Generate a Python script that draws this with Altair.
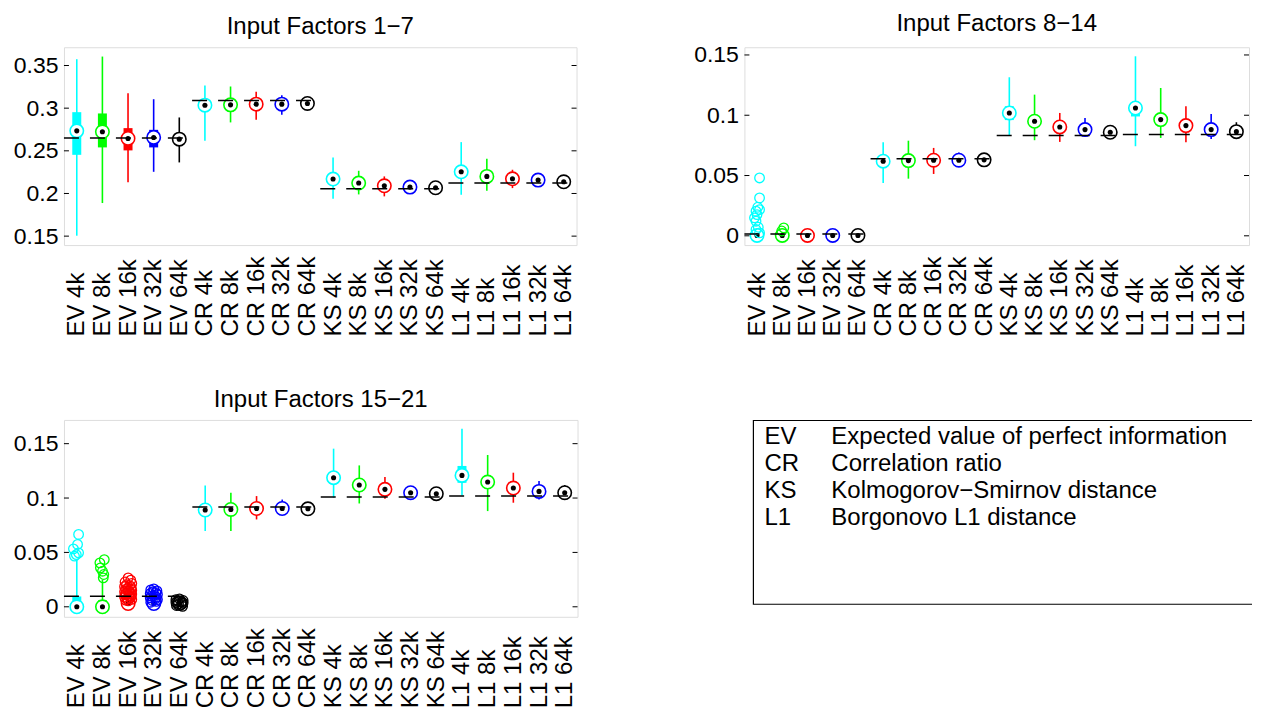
import altair as alt
import pandas as pd

methods = ["EV", "CR", "KS", "L1"]
descs = ["Expected value of perfect information", "Correlation ratio",
         "Kolmogorov\u2212Smirnov distance", "Borgonovo L1 distance"]
sizes = ["4k", "8k", "16k", "32k", "64k"]
categories = [f"{m} {s}" for m in methods for s in sizes]
size_colors = ["#00FFFF", "#00FF00", "#FF0000", "#0000FF", "#000000"]
titles = ["Input Factors 1\u22127", "Input Factors 8\u221214", "Input Factors 15\u221221"]

# ---------------- Panel 1: Input Factors 1-7 ----------------
p1_med = [0.2734, 0.2723, 0.2645, 0.2657, 0.2637, 0.3035, 0.3039, 0.3047, 0.3047, 0.3055,
          0.2169, 0.2122, 0.2090, 0.2075, 0.2067, 0.2254, 0.2200, 0.2172, 0.2157, 0.2137]
p1_q1 = [0.2453, 0.2540, 0.2505, 0.2540, 0.2595, 0.2990, 0.3000, 0.3015, 0.3025, 0.3040,
         0.2120, 0.2085, 0.2065, 0.2055, 0.2050, 0.2190, 0.2160, 0.2150, 0.2140, 0.2125]
p1_q3 = [0.2953, 0.2938, 0.2766, 0.2746, 0.2680, 0.3080, 0.3075, 0.3075, 0.3070, 0.3070,
         0.2220, 0.2160, 0.2120, 0.2095, 0.2085, 0.2320, 0.2240, 0.2195, 0.2175, 0.2150]
p1_wlo = [0.1505, 0.1888, 0.2133, 0.2254, 0.2364, 0.2617, 0.2833, 0.2863, 0.2922, 0.3000,
          0.1938, 0.1989, 0.1966, 0.2020, 0.2025, 0.1985, 0.2032, 0.2063, 0.2090, 0.2080]
p1_whi = [0.3574, 0.3605, 0.3176, 0.3105, 0.2891, 0.3266, 0.3254, 0.3191, 0.3152, 0.3105,
          0.2423, 0.2266, 0.2200, 0.2130, 0.2110, 0.2602, 0.2406, 0.2278, 0.2220, 0.2200]
p1_out_cat = []
p1_out_val = []
p1_out_jit = []
p1_true = [0.2649, 0.3090, 0.2055, 0.2122]
p1_ticks = [0.15, 0.2, 0.25, 0.3, 0.35]
p1_domain = [0.1395, 0.3714]

# ---------------- Panel 2: Input Factors 8-14 ----------------
p2_med = [0.0003, 0.0003, 0.0003, 0.0003, 0.0003, 0.0619, 0.0624, 0.0627, 0.0627, 0.0630,
          0.1019, 0.0950, 0.0903, 0.0881, 0.0859, 0.1060, 0.0964, 0.0914, 0.0881, 0.0864]
p2_q1 = [0.0000, 0.0000, 0.0000, 0.0000, 0.0001, 0.0590, 0.0595, 0.0605, 0.0612, 0.0620,
         0.0960, 0.0905, 0.0870, 0.0860, 0.0845, 0.0990, 0.0920, 0.0885, 0.0865, 0.0850]
p2_q3 = [0.0010, 0.0008, 0.0006, 0.0005, 0.0005, 0.0650, 0.0655, 0.0650, 0.0645, 0.0640,
         0.1075, 0.0995, 0.0935, 0.0905, 0.0875, 0.1110, 0.1010, 0.0945, 0.0900, 0.0880]
p2_wlo = [0.0000, 0.0000, 0.0000, 0.0000, 0.0000, 0.0439, 0.0474, 0.0513, 0.0580, 0.0590,
          0.0831, 0.0793, 0.0779, 0.0826, 0.0820, 0.0743, 0.0812, 0.0776, 0.0804, 0.0820]
p2_whi = [0.0020, 0.0015, 0.0012, 0.0010, 0.0008, 0.0776, 0.0789, 0.0729, 0.0690, 0.0670,
          0.1315, 0.1171, 0.1019, 0.0978, 0.0900, 0.1489, 0.1226, 0.1075, 0.1011, 0.0942]
p2_out_cat = [1] * 11 + [2] * 2
p2_out_val = [0.0480, 0.0314, 0.0237, 0.0217, 0.0204, 0.0176, 0.0149, 0.0121, 0.0071, 0.0052, 0.0024,
              0.0066, 0.0040]
p2_out_jit = [0.10, 0.10, 0.03, 0.10, -0.04, 0.00, -0.10, -0.04, 0.05, -0.04, 0.10,
              0.06, -0.02]
p2_true = [0.0016, 0.0640, 0.0831, 0.0840]
p2_ticks = [0, 0.05, 0.1, 0.15]
p2_domain = [-0.0077, 0.1564]

# ---------------- Panel 3: Input Factors 15-21 ----------------
p3_med = [0.0000, 0.0000, 0.0030, 0.0030, 0.0030, 0.0890, 0.0895, 0.0904, 0.0904, 0.0901,
          0.1187, 0.1120, 0.1080, 0.1049, 0.1040, 0.1208, 0.1147, 0.1092, 0.1061, 0.1049]
p3_q1 = [0.0000, 0.0000, 0.0000, 0.0000, 0.0000, 0.0860, 0.0860, 0.0880, 0.0885, 0.0890,
         0.1130, 0.1075, 0.1050, 0.1030, 0.1025, 0.1140, 0.1100, 0.1060, 0.1040, 0.1035]
p3_q3 = [0.0095, 0.0060, 0.0040, 0.0040, 0.0035, 0.0935, 0.0940, 0.0930, 0.0925, 0.0915,
         0.1240, 0.1170, 0.1110, 0.1070, 0.1060, 0.1295, 0.1200, 0.1130, 0.1085, 0.1065]
p3_wlo = [0.0000, 0.0000, 0.0000, 0.0000, 0.0000, 0.0696, 0.0696, 0.0803, 0.0850, 0.0860,
          0.1003, 0.0950, 0.0994, 0.1000, 0.1000, 0.1024, 0.0880, 0.0957, 0.0987, 0.1000]
p3_whi = [0.0434, 0.0250, 0.0045, 0.0045, 0.0040, 0.1116, 0.1049, 0.1018, 0.0986, 0.0950,
          0.1454, 0.1300, 0.1193, 0.1110, 0.1080, 0.1638, 0.1396, 0.1233, 0.1157, 0.1120]
p3_out_cat = [1] * 6 + [2] * 6 + [3] * 25 + [4] * 16 + [5] * 11
p3_out_val = [0.0665, 0.0573, 0.0533, 0.0496, 0.0480, 0.0466,
              0.0434, 0.0404, 0.0358, 0.0327, 0.0297, 0.0266,
              0.0266, 0.0245, 0.0228, 0.0215, 0.0204, 0.0194, 0.0185, 0.0176, 0.0168, 0.0160,
              0.0152, 0.0145, 0.0138, 0.0131, 0.0124, 0.0117, 0.0110, 0.0103, 0.0096, 0.0089,
              0.0082, 0.0075, 0.0068, 0.0061, 0.0054,
              0.0165, 0.0155, 0.0146, 0.0138, 0.0130, 0.0122, 0.0114, 0.0106, 0.0098, 0.0090,
              0.0082, 0.0074, 0.0066, 0.0058, 0.0050, 0.0042,
              0.0072, 0.0065, 0.0058, 0.0052, 0.0046, 0.0040, 0.0034, 0.0028, 0.0022, 0.0012,
              0.0004]
p3_out_jit = [0.07, 0.03, -0.13, 0.07, -0.02, -0.09,
              0.07, -0.10, -0.08, 0.00, 0.05, 0.03,
              0.00, 0.10, -0.12, 0.14, -0.06, 0.06, -0.14, 0.12, -0.02, -0.10,
              0.14, 0.02, -0.14, 0.08, -0.08, 0.14, -0.12, 0.04, 0.12, -0.14,
              0.08, -0.04, 0.14, -0.10, 0.00,
              0.00, -0.12, 0.12, -0.04, 0.08, -0.14, 0.14, 0.02, -0.10, 0.10,
              -0.14, 0.06, 0.14, -0.06, 0.10, -0.12,
              0.00, -0.14, 0.14, -0.08, 0.10, -0.14, 0.14, -0.04, 0.08, -0.12,
              0.12]
p3_true = [0.0097, 0.0917, 0.1009, 0.1018]
p3_ticks = [0, 0.05, 0.1, 0.15]
p3_domain = [-0.0092, 0.1718]

FONT = "Liberation Sans"
label_expr = "[" + ", ".join(f"'{c}'" for c in categories) + "][datum.value - 1]"


def panel(title, med, q1, q3, wlo, whi, out_cat, out_val, out_jit, true_vals,
          domain, ticks, width, height):
    df = pd.DataFrame({
        "idx": list(range(1, 21)),
        "label": categories,
        "size": [sizes[i % 5] for i in range(20)],
        "med": med, "q1": q1, "q3": q3, "wlo": wlo, "whi": whi,
    })
    tdf = pd.DataFrame({
        "g0": [5 * k + 0.5 for k in range(4)],
        "g1": [5 * k + 5.5 for k in range(4)],
        "tv": true_vals,
    })
    kdf = pd.DataFrame({"t": ticks})

    xs = alt.Scale(domain=[0.5, 20.5], nice=False, zero=False)
    ys = alt.Scale(domain=domain, nice=False, zero=False)
    xaxis = alt.Axis(values=list(range(1, 21)), labelExpr=label_expr, labelAngle=270,
                     labelAlign="left", labelBaseline="middle", labelPadding=91,
                     ticks=False, tickSize=0, domain=False, grid=False, title=None,
                     labelFontSize=24, labelOverlap=False, labelFlush=False,
                     labelColor="black", labelFont=FONT)
    yaxis = alt.Axis(values=ticks, format="~g", ticks=False, tickSize=0, domain=False,
                     grid=False, title=None, labelPadding=6, labelFontSize=23,
                     labelColor="black", labelFont=FONT)
    color = alt.Color("size:N", scale=alt.Scale(domain=sizes, range=size_colors), legend=None)
    stroke = alt.Stroke("size:N", scale=alt.Scale(domain=sizes, range=size_colors), legend=None)

    def X(f):
        return alt.X(f, scale=xs, axis=xaxis)

    def Y(f):
        return alt.Y(f, scale=ys, axis=yaxis)

    base = alt.Chart(df)
    whisk = base.mark_rule(strokeWidth=1.6).encode(x=X("idx:Q"), y=Y("wlo:Q"), y2="whi:Q", color=color)
    box = base.mark_rule(strokeWidth=9).encode(x=X("idx:Q"), y=Y("q1:Q"), y2="q3:Q", color=color)
    circ = base.mark_point(shape="circle", size=180, strokeWidth=1.6, fill="white",
                           fillOpacity=1, strokeOpacity=1, opacity=1).encode(
        x=X("idx:Q"), y=Y("med:Q"), stroke=stroke)
    dot = base.mark_point(shape="circle", filled=True, size=26, color="black", opacity=1).encode(
        x=X("idx:Q"), y=Y("med:Q"))
    layers = [whisk, box, circ, dot]
    if out_cat:
        odf = pd.DataFrame({
            "ox": [c + j for c, j in zip(out_cat, out_jit)],
            "val": out_val,
            "size": [sizes[(c - 1) % 5] for c in out_cat],
        })
        outl = alt.Chart(odf).mark_point(shape="circle", filled=False, size=92, strokeWidth=1.3,
                                         opacity=1).encode(x=X("ox:Q"), y=Y("val:Q"), color=color)
        layers.append(outl)
    true = alt.Chart(tdf).mark_rule(color="black", strokeWidth=1.5, strokeDash=[15, 11]).encode(
        x=X("g0:Q"), x2="g1:Q", y=Y("tv:Q"))
    tl = alt.Chart(kdf).mark_rule(color="black", strokeWidth=1).encode(
        y=Y("t:Q"), x=alt.value(0), x2=alt.value(5))
    tr = alt.Chart(kdf).mark_rule(color="black", strokeWidth=1).encode(
        y=Y("t:Q"), x=alt.value(width - 5), x2=alt.value(width))
    layers += [true, tl, tr]
    return alt.layer(*layers).properties(
        width=width, height=height,
        title=alt.TitleParams(text=title, fontSize=24, font=FONT, fontWeight="normal",
                              color="black", anchor="middle", offset=8))


p1 = panel(titles[0], p1_med, p1_q1, p1_q3, p1_wlo, p1_whi, p1_out_cat, p1_out_val, p1_out_jit,
           p1_true, p1_domain, p1_ticks, 513, 198)
p2 = panel(titles[1], p2_med, p2_q1, p2_q3, p2_wlo, p2_whi, p2_out_cat, p2_out_val, p2_out_jit,
           p2_true, p2_domain, p2_ticks, 505, 198)
p3 = panel(titles[2], p3_med, p3_q1, p3_q3, p3_wlo, p3_whi, p3_out_cat, p3_out_val, p3_out_jit,
           p3_true, p3_domain, p3_ticks, 514, 197)

# ---------------- Legend box ----------------
ldf = pd.DataFrame({"code": methods, "desc": descs, "row": [0, 1, 2, 3]})
lbase = alt.Chart(ldf)
rowy = alt.Y("row:O", scale=alt.Scale(type="point", range=[17.5, 98.5], padding=0), axis=None)
frame = alt.Chart(pd.DataFrame({"b": [0]})).mark_rect(
    fill="white", fillOpacity=0, stroke="black", strokeWidth=1.2, clip=True).encode(
    x=alt.value(9), x2=alt.value(700), y=alt.value(0.5), y2=alt.value(184.5))
codes = lbase.mark_text(align="left", baseline="middle", fontSize=24, font=FONT, color="black").encode(
    x=alt.value(20), y=rowy, text="code:N")
texts = lbase.mark_text(align="left", baseline="middle", fontSize=24, font=FONT, color="black").encode(
    x=alt.value(87), y=rowy, text="desc:N")
leg = alt.layer(frame, codes, texts).properties(
    width=508, height=185, view=alt.ViewBackground(stroke="transparent"))

chart = alt.concat(p1, p2, p3, leg, columns=2, spacing={"row": 175, "column": 167},
                   bounds="flush").properties(
    padding={"left": 4, "top": 3, "right": 0, "bottom": 0},
    background="white",
).configure_view(stroke="black", strokeWidth=1.3).configure(font=FONT)

chart.save("out.html", embed_options={"renderer": "svg", "actions": False})
